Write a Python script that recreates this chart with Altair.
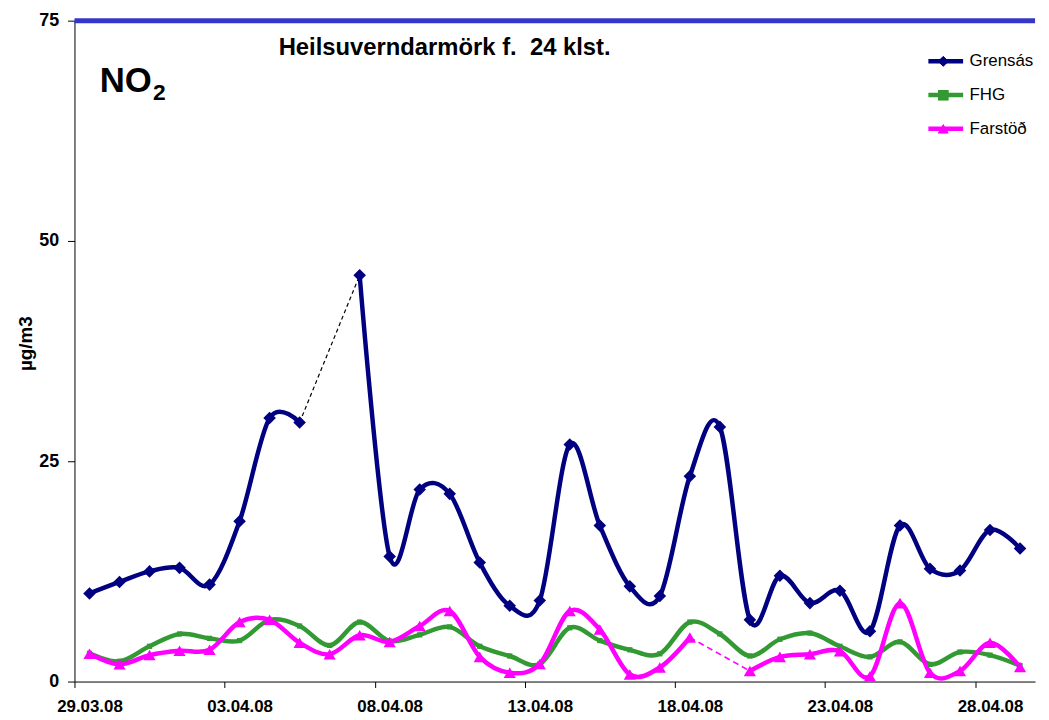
import altair as alt
import pandas as pd

# ---------------- data ----------------
dates = ["29.03.08", "30.03.08", "31.03.08", "01.04.08", "02.04.08", "03.04.08",
         "04.04.08", "05.04.08", "06.04.08", "07.04.08", "08.04.08", "09.04.08",
         "10.04.08", "11.04.08", "12.04.08", "13.04.08", "14.04.08", "15.04.08",
         "16.04.08", "17.04.08", "18.04.08", "19.04.08", "20.04.08", "21.04.08",
         "22.04.08", "23.04.08", "24.04.08", "25.04.08", "26.04.08", "27.04.08",
         "28.04.08", "29.04.08"]

grensas = [10.0, 11.3, 12.5, 12.9, 11.0, 18.2, 29.9, 29.4, None, 46.1, 14.2, 21.8,
           21.3, 13.5, 8.6, 9.2, 26.9, 17.7, 10.8, 9.7, 23.3, 28.9, 7.0, 12.0,
           8.9, 10.3, 5.7, 17.7, 12.8, 12.6, 17.2, 15.1]
fhg = [3.2, 2.3, 4.0, 5.4, 4.9, 4.65, 7.0, 6.3, 4.1, 6.75, 4.6, 5.3,
       6.2, 4.0, 2.9, 2.0, 6.1, 4.65, 3.6, 3.15, 6.75, 5.4, 2.9, 4.8,
       5.5, 4.0, 2.8, 4.5, 1.95, 3.35, 3.0, 1.8]
farstod = [3.15, 1.95, 3.0, 3.5, 3.6, 6.75, 7.0, 4.4, 3.1, 5.25, 4.5, 6.3,
           8.0, 2.8, 1.0, 2.0, 8.0, 5.9, 0.8, 1.6, 5.0, None, 1.2, 2.8,
           3.1, 3.45, 0.6, 8.9, 1.0, 1.2, 4.4, 1.65]

series_names = ["Grensás", "FHG", "Farstöð"]
series_values = [grensas, fhg, farstod]
series_colors = ["#000080", "#339933", "#FF00FF"]
series_shapes = ["diamond", "square", "triangle-up"]
series_sizes = [160, 28, 150]

limit_value = [75]
y_ticks = [0, 25, 50, 75]
x_label_days = [0, 5, 10, 15, 20, 25, 30]

title_text = ["Heilsuverndarmörk f.\u00a0 24 klst."]
no_text = ["NO"]
sub_text = ["2"]

# ---------------- tables ----------------
rows, conn_rows = [], []
for name, vals in zip(series_names, series_values):
    seg = 0
    for i, v in enumerate(vals):
        if v is None:
            seg += 1
            conn_rows.append(dict(day=i - 1, value=vals[i - 1], series=name, gap=i))
            conn_rows.append(dict(day=i + 1, value=vals[i + 1], series=name, gap=i))
            continue
        rows.append(dict(day=i, value=v, series=name, marker=name, seg=seg))
df = pd.DataFrame(rows)
conn = pd.DataFrame(conn_rows)

FONT = "Liberation Sans"
W, H = 968, 666
cat_w = W / len(dates)

label_js = "[" + ",".join(f"'{d}'" for d in dates) + "]"

x_enc = alt.X(
    "day:Q",
    scale=alt.Scale(domain=[-0.5, len(dates) - 0.5], nice=False, zero=False),
    axis=alt.Axis(
        values=[d - 0.5 for d in x_label_days],
        labelExpr=label_js + "[round(datum.value + 0.5)]",
        labelOffset=cat_w / 2,
        labelFlush=False,
        labelOverlap=False,
        labelBound=False,
        tickSize=6,
        labelPadding=11,
        labelFontSize=17,
        title=None,
    ),
)
y_enc = alt.Y(
    "value:Q",
    scale=alt.Scale(domain=[0, 75], nice=False),
    axis=alt.Axis(
        values=y_ticks,
        tickSize=7,
        labelPadding=9,
        labelFontSize=18,
        title="µg/m3",
        titleFontSize=19,
        titleFont=FONT,
        titleFontWeight="bold",
        titleX=-43,
        titleY=325,
        titleBaseline="alphabetic",
    ),
)

ROW_H = 34
color_scale = alt.Scale(domain=series_names, range=series_colors)
fill_scale = alt.Scale(domain=series_names, range=series_colors)
shape_scale = alt.Scale(domain=series_names, range=series_shapes)

line_legend = alt.Legend(
    title=None,
    orient="none",
    legendX=858,
    legendY=24,
    symbolType="stroke",
    symbolSize=1225,
    symbolStrokeWidth=4.5,
    labelFont=FONT,
    labelFontSize=17,
    labelFontWeight="normal",
    labelColor="black",
    labelOffset=4,
    rowPadding=0,
    padding=0,
    clipHeight=ROW_H,
)
marker_legend = alt.Legend(
    title=None,
    orient="none",
    legendX=870,
    legendY=24,
    symbolSize=110,
    symbolStrokeWidth=0,
    labelExpr="''",
    labelFontSize=1,
    labelOffset=0,
    rowPadding=0,
    padding=0,
    clipHeight=ROW_H,
)

limit = alt.Chart(pd.DataFrame({"value": limit_value})).mark_rule(
    color="#3636C8", strokeWidth=5
).encode(y=y_enc)

lines = alt.Chart(df).mark_line(interpolate="cardinal", strokeWidth=4.5).encode(
    x=x_enc, y=y_enc,
    color=alt.Color("series:N", scale=color_scale, legend=line_legend),
    detail="seg:N",
)

point_layers = []
for name, sz in zip(series_names, series_sizes):
    point_layers.append(
        alt.Chart(df).transform_filter(alt.datum.marker == name)
        .mark_point(filled=True, opacity=1, strokeWidth=0, size=sz)
        .encode(
            x=x_enc, y=y_enc,
            fill=alt.Fill("marker:N", scale=fill_scale, legend=marker_legend),
            shape=alt.Shape("marker:N", scale=shape_scale, legend=marker_legend),
        )
    )

conn_g = alt.Chart(conn).transform_filter(alt.datum.series == "Grensás").mark_line(
    color="black", strokeWidth=1.2, strokeDash=[4, 3]
).encode(x=x_enc, y=y_enc)

conn_f = alt.Chart(conn).transform_filter(alt.datum.series == "Farstöð").mark_line(
    color="#FF00FF", strokeWidth=1.6, strokeDash=[6, 4]
).encode(x=x_enc, y=y_enc)

title_mark = alt.Chart(pd.DataFrame({"t": title_text})).mark_text(
    font=FONT, fontSize=24, fontWeight="bold", color="black", align="center", baseline="alphabetic"
).encode(text="t:N", x=alt.value(373), y=alt.value(35))

no_mark = alt.Chart(pd.DataFrame({"t": no_text})).mark_text(
    font=FONT, fontSize=35, fontWeight="bold", color="black", align="left", baseline="alphabetic"
).encode(text="t:N", x=alt.value(25.5), y=alt.value(72))

sub_mark = alt.Chart(pd.DataFrame({"t": sub_text})).mark_text(
    font=FONT, fontSize=23, fontWeight="bold", color="black", align="left", baseline="alphabetic"
).encode(text="t:N", x=alt.value(79), y=alt.value(79.5))

chart = alt.layer(
    limit, conn_g, conn_f, lines, *point_layers, title_mark, no_mark, sub_mark
).properties(
    width=W, height=H,
    autosize=alt.AutoSizeParams(type="none"),
    padding={"left": 67, "top": 10, "right": 6, "bottom": 36},
    background="white",
).resolve_legend(
    color="independent", fill="independent", shape="independent"
).configure_view(stroke=None).configure_axis(
    grid=False,
    domainColor="black",
    domainWidth=1,
    tickColor="black",
    tickWidth=1,
    labelFont=FONT,
    labelFontWeight="bold",
    labelColor="black",
    titleColor="black",
)

chart.save("out.html", embed_options={"renderer": "svg", "actions": False})
